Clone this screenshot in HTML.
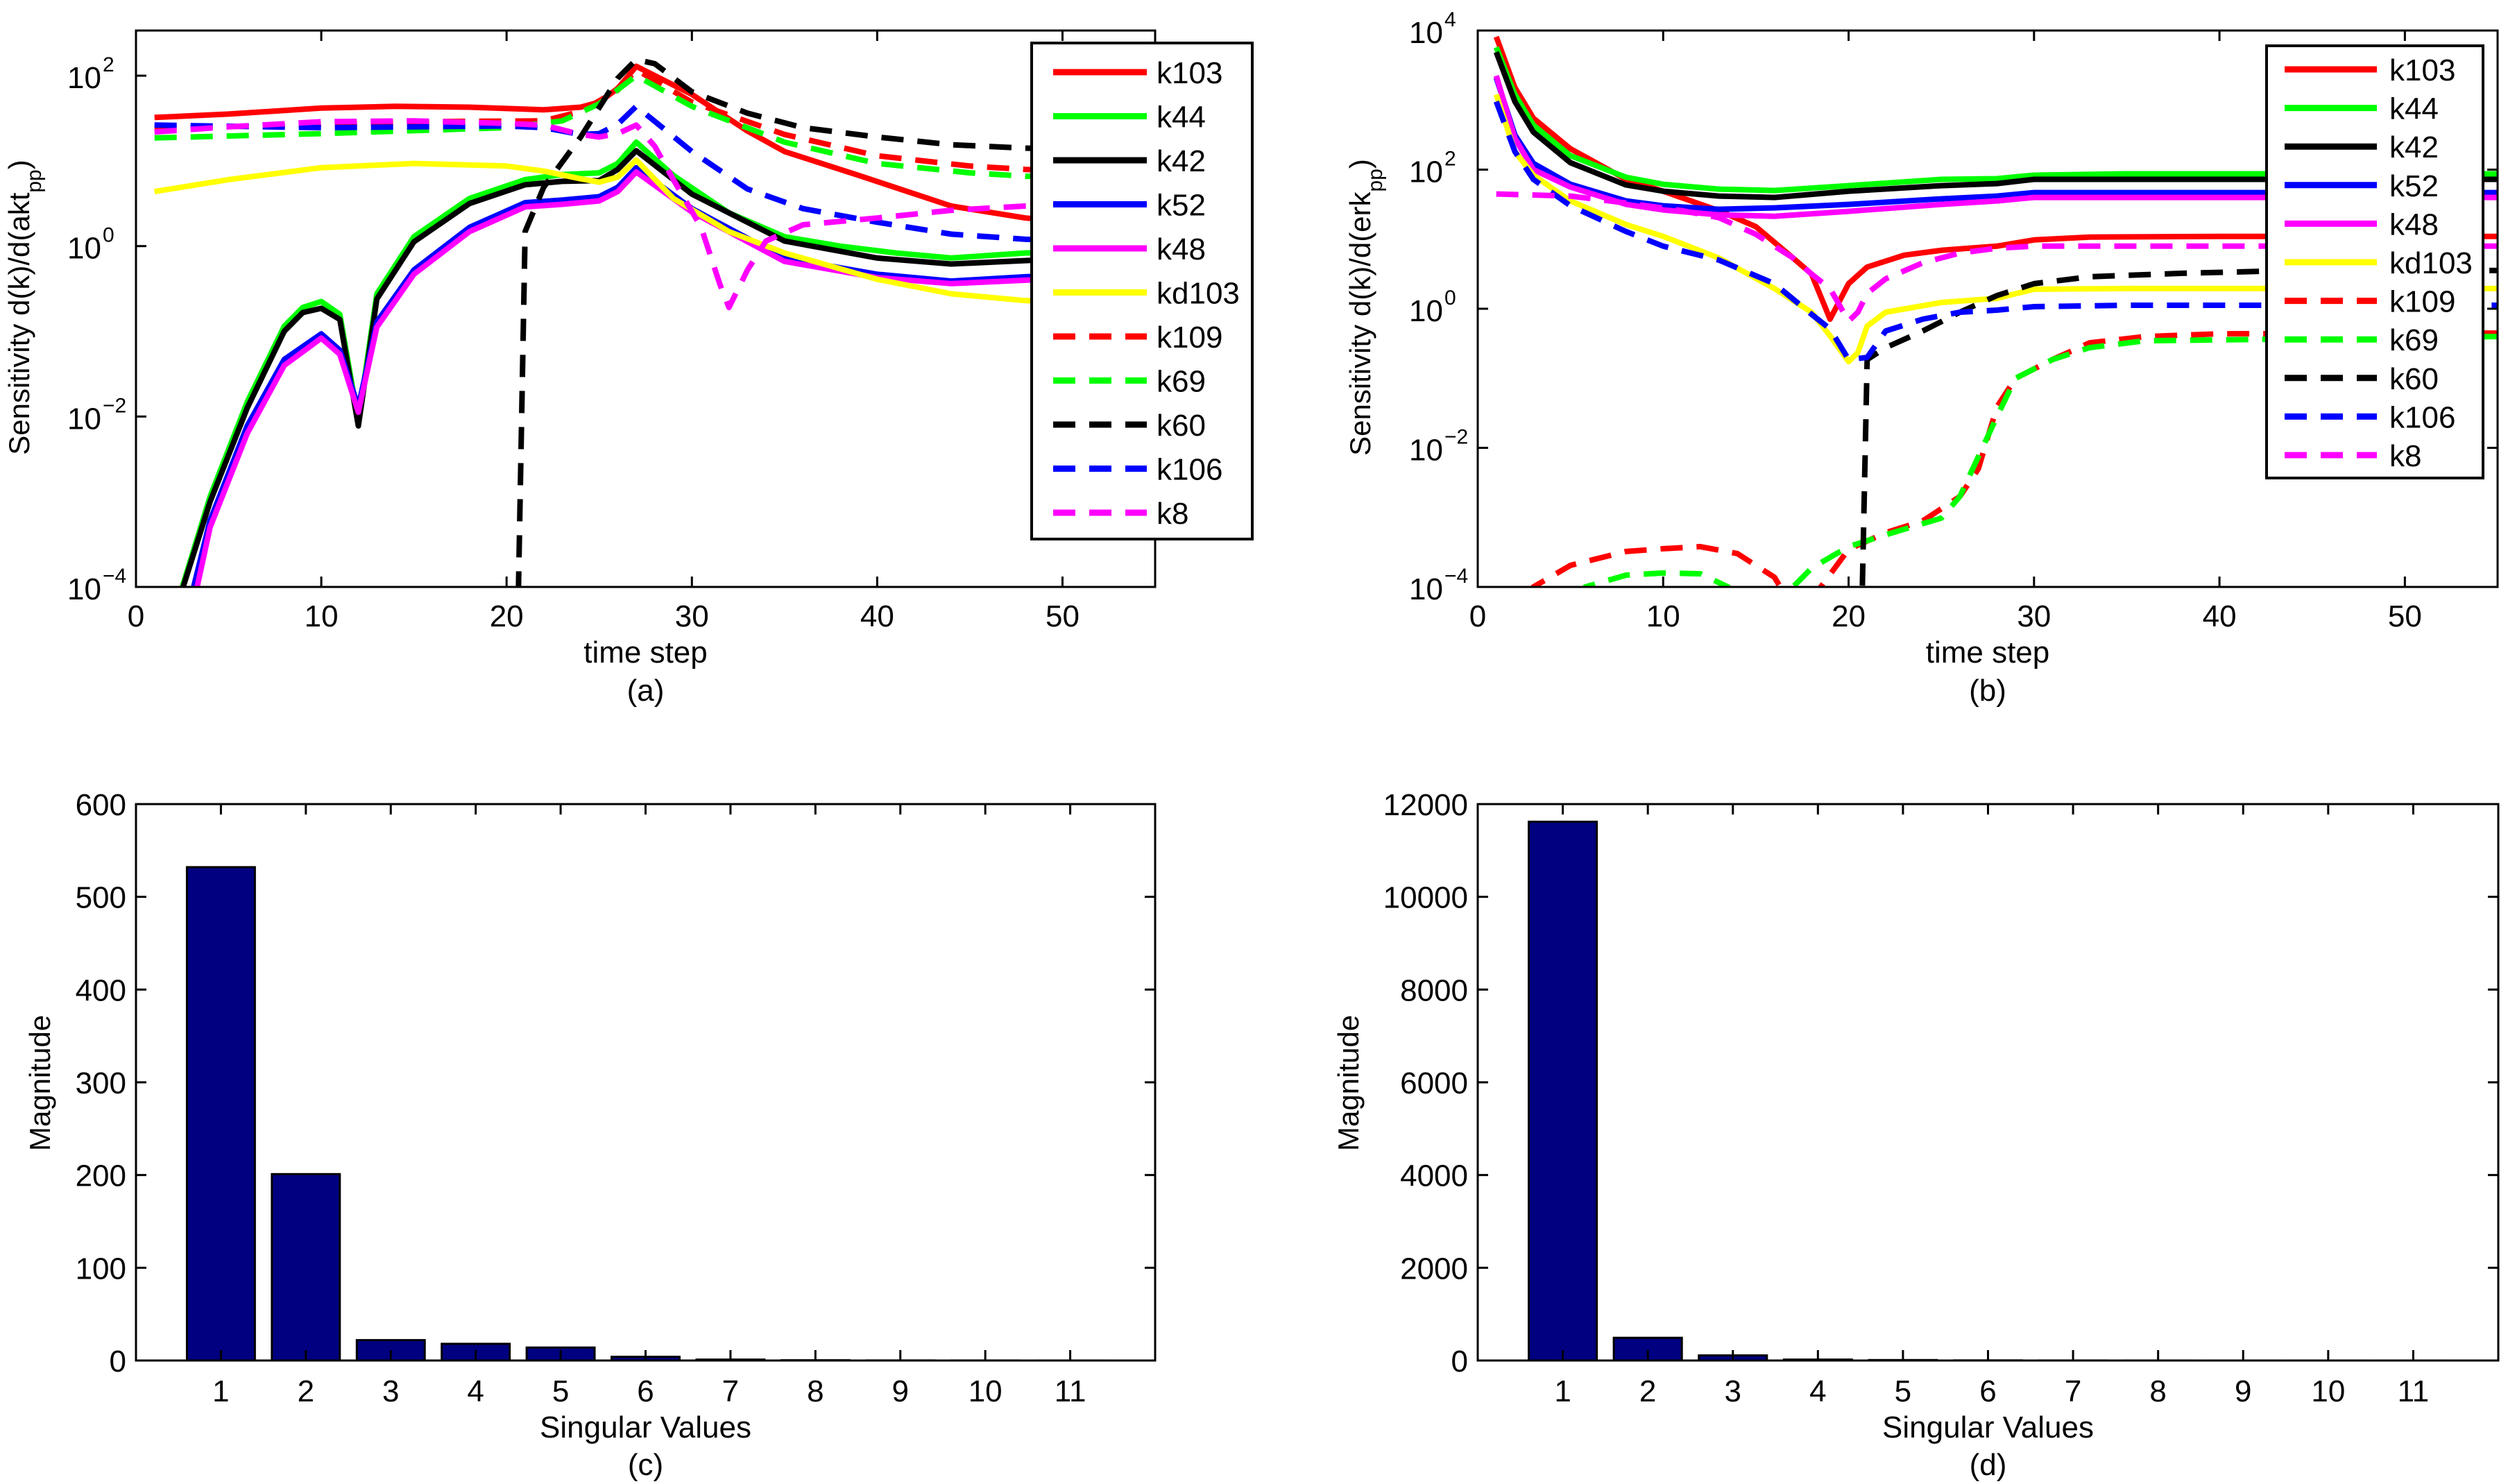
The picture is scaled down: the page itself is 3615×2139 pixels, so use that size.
<!DOCTYPE html>
<html><head><meta charset="utf-8"><style>
html,body{margin:0;padding:0;background:#fff;}
svg{display:block;font-family:"Liberation Sans",sans-serif;}
</style></head><body>
<svg id="fig" width="3615" height="2139" viewBox="0 0 3615 2139" xmlns="http://www.w3.org/2000/svg">
<rect width="3615" height="2139" fill="#fff"/>
</svg>
<script>
// ---------- Panel (a) data: [time, log10 value] ----------
const aK103 = [[1,1.51],[5,1.55],[10,1.62],[14,1.64],[18,1.63],[22,1.6],[24,1.63],[25,1.69],[26,1.85],[27,2.11],[28,2.0],[30,1.78],[33,1.35],[35,1.11],[39,0.83],[44,0.47],[48,0.33],[55,0.2]];
const aK44 = [[2.5,-4],[4,-2.94],[6,-1.83],[8,-0.94],[9,-0.72],[10,-0.65],[11,-0.8],[12,-2.05],[13,-0.56],[15,0.11],[18,0.56],[21,0.78],[23,0.84],[25,0.86],[26,0.97],[27,1.22],[29,0.83],[32,0.39],[35,0.11],[38,0],[41,-0.08],[44,-0.14],[48,-0.08],[55,-0.04]];
const aK42 = [[2.4,-4.1],[4,-3.0],[6,-1.9],[8,-1.0],[9,-0.78],[10,-0.73],[11,-0.86],[12,-2.11],[13,-0.62],[15,0.05],[18,0.5],[21,0.72],[23,0.76],[25,0.77],[26,0.9],[27,1.12],[30,0.61],[35,0.06],[40,-0.14],[44,-0.21],[48,-0.17],[55,-0.1]];
const aK52 = [[3,-4.1],[4,-3.22],[6,-2.11],[8,-1.33],[10,-1.03],[11,-1.22],[12,-1.89],[13,-0.89],[15,-0.28],[18,0.22],[21,0.51],[23,0.54],[25,0.58],[26,0.69],[27,0.92],[30,0.44],[35,-0.14],[40,-0.33],[44,-0.41],[48,-0.36],[55,-0.3]];
const aK48 = [[3.2,-4.1],[4,-3.3],[6,-2.2],[8,-1.4],[10,-1.08],[11,-1.27],[12,-1.95],[13,-0.95],[15,-0.33],[18,0.17],[21,0.46],[23,0.49],[25,0.53],[26,0.64],[27,0.87],[30,0.4],[35,-0.18],[40,-0.37],[44,-0.44],[48,-0.4],[55,-0.34]];
const aKd103 = [[1,0.64],[5,0.78],[10,0.92],[15,0.97],[20,0.94],[22,0.88],[24,0.79],[25,0.75],[26,0.81],[27,1.01],[29,0.56],[32,0.17],[35,-0.08],[40,-0.39],[44,-0.56],[48,-0.64],[55,-0.68]];
const aK109 = [[1,1.38],[10,1.43],[15,1.46],[22,1.47],[24,1.58],[26,1.83],[27,2.07],[30,1.69],[35,1.31],[40,1.06],[45,0.94],[48,0.9],[55,0.85]];
const aK69 = [[1,1.27],[10,1.32],[20,1.39],[23,1.47],[25,1.67],[27,2.0],[30,1.64],[35,1.22],[40,0.97],[45,0.86],[48,0.82],[55,0.78]];
const aK60 = [[20.6,-4.5],[21,0.17],[22,0.69],[24,1.28],[26,1.97],[27,2.19],[28,2.14],[30,1.81],[33,1.56],[36,1.39],[40,1.28],[44,1.19],[48,1.15],[55,1.1]];
const aK106 = [[1,1.42],[10,1.39],[20,1.41],[22,1.39],[24,1.31],[25,1.32],[26,1.43],[27,1.64],[30,1.11],[33,0.67],[36,0.44],[40,0.28],[44,0.14],[48,0.08],[55,0.03]];
const aK8 = [[1,1.34],[5,1.4],[10,1.46],[15,1.47],[20,1.44],[22,1.42],[24,1.31],[25,1.28],[26,1.32],[27,1.42],[28,1.17],[29,0.78],[30.5,0.22],[31.5,-0.44],[32,-0.72],[33,-0.28],[34,0.06],[36,0.25],[40,0.33],[44,0.42],[48,0.47],[55,0.5]];

// ---------- Panel (b) data: [time, log10 value] ----------
const bK103 = [[1,3.91],[2,3.18],[3,2.74],[5,2.3],[8,1.86],[10,1.69],[13,1.41],[15,1.18],[17,0.73],[18,0.5],[19,-0.15],[20,0.36],[21,0.6],[23,0.77],[25,0.84],[28,0.9],[30,0.99],[33,1.03],[40,1.04],[55,1.04]];
const bK44 = [[1,3.76],[2,3.08],[3,2.64],[5,2.2],[8,1.89],[10,1.79],[13,1.72],[16,1.7],[20,1.77],[25,1.86],[28,1.87],[30,1.92],[35,1.94],[55,1.94]];
const bK42 = [[1,3.69],[2,2.98],[3,2.54],[5,2.1],[8,1.78],[10,1.69],[13,1.62],[16,1.6],[20,1.69],[25,1.77],[28,1.8],[30,1.86],[35,1.86],[55,1.86]];
const bK52 = [[1,3.32],[2,2.5],[3,2.09],[5,1.79],[8,1.55],[10,1.48],[13,1.43],[16,1.45],[20,1.5],[25,1.58],[28,1.62],[30,1.67],[55,1.67]];
const bK48 = [[1,3.35],[2,2.45],[3,2.0],[5,1.75],[8,1.5],[10,1.42],[13,1.35],[16,1.33],[20,1.4],[25,1.5],[28,1.55],[30,1.6],[55,1.6]];
const bKd103 = [[1,3.08],[2,2.26],[3,1.92],[5,1.55],[8,1.21],[10,1.04],[13,0.73],[16,0.29],[18,-0.05],[19,-0.39],[20,-0.76],[20.5,-0.63],[21,-0.25],[22,-0.05],[25,0.09],[28,0.15],[30,0.28],[35,0.29],[55,0.29]];
const bK109 = [[2,-4.6],[3,-4],[5,-3.69],[8,-3.49],[10,-3.45],[12,-3.42],[14,-3.52],[16,-3.86],[17,-4.3],[18,-4.3],[18.5,-4],[20,-3.46],[22,-3.22],[24,-3.05],[26,-2.7],[27,-2.3],[28,-1.41],[29,-1.0],[31,-0.73],[33,-0.49],[36,-0.4],[40,-0.36],[55,-0.35]];
const bK69 = [[4.5,-4.6],[5.8,-4],[8,-3.83],[10,-3.8],[12,-3.81],[13.5,-4],[15,-4.4],[16,-4.4],[17,-4],[18,-3.73],[20,-3.42],[22,-3.25],[25,-3.01],[26,-2.7],[28,-1.55],[29,-1.0],[31,-0.73],[33,-0.56],[36,-0.46],[55,-0.4]];
const bK60 = [[20.7,-4.5],[21,-0.73],[22,-0.56],[24,-0.32],[26,-0.05],[28,0.19],[30,0.36],[33,0.46],[38,0.51],[44,0.55],[55,0.55]];
const bK106 = [[1,2.98],[2,2.26],[3,1.86],[5,1.48],[8,1.11],[10,0.9],[13,0.7],[16,0.36],[18,-0.08],[19,-0.29],[20,-0.73],[21,-0.7],[22,-0.32],[24,-0.15],[26,-0.05],[28,-0.02],[30,0.03],[35,0.05],[55,0.05]];
const bK8 = [[1,1.65],[5,1.62],[8,1.52],[11,1.41],[13,1.31],[15,1.07],[17,0.73],[18,0.5],[19,0.29],[20,-0.18],[20.5,-0.05],[21,0.22],[22,0.43],[24,0.66],[26,0.8],[28,0.87],[30,0.9],[55,0.9]];

// ---------- Bar data ----------
const svIndex = [1,2,3,4,5,6,7,8,9,10,11];
const cValues = [532,201,22,18,14,4,1,0.3,0.1,0.05,0.02];
const dValues = [11620,490,110,20,10,3,1,0.5,0.2,0.1,0.05];
const cTicks = [0,100,200,300,400,500,600];
const dTicks = [0,2000,4000,6000,8000,10000,12000];
const timeTicks = [0,10,20,30,40,50];
const aLogTicks = [-4,-2,0,2];
const bLogTicks = [-4,-2,0,2,4];

const legendNames = ['k103','k44','k42','k52','k48','kd103','k109','k69','k60','k106','k8'];
const seriesColors = ['#ff0000','#00ff00','#000000','#0000ff','#ff00ff','#ffff00','#ff0000','#00ff00','#000000','#0000ff','#ff00ff'];
const aSeries = [aK103,aK44,aK42,aK52,aK48,aKd103,aK109,aK69,aK60,aK106,aK8];
const bSeries = [bK103,bK44,bK42,bK52,bK48,bKd103,bK109,bK69,bK60,bK106,bK8];

const NS='http://www.w3.org/2000/svg';
const fig=document.getElementById('fig');
function mk(tag,attrs,parent){const e=document.createElementNS(NS,tag);for(const k in attrs)e.setAttribute(k,attrs[k]);(parent||fig).appendChild(e);return e;}
function txt(x,y,s,anchor,size,parent){const t=mk('text',{x:x,y:y,'text-anchor':anchor,'font-size':size,fill:'#000'},parent);t.textContent=s;return t;}

function linScale(d0,d1,r0,r1){return v=>r0+(v-d0)*(r1-r0)/(d1-d0);}

function logPanel(id,L,R,T,B,ymin,ymax,ticks,series,legend,label,sub,caption){
  const g=mk('g',{});
  
  
  const xs=linScale(0,55,L,R), ys=linScale(ymin,ymax,B,T);
  const cp=mk('clipPath',{id:'clip'+id},g);
  mk('rect',{x:L,y:T,width:R-L,height:B-T},cp);
  const lines=mk('g',{'clip-path':'url(#clip'+id+')'},g);
  // draw dashed first, then solid? keep order: dashed on top as in reference
  series.forEach((s,i)=>{
    const d=s.map((p,j)=>(j?'L':'M')+xs(p[0]).toFixed(1)+','+ys(p[1]).toFixed(1)).join(' ');
    const p=mk('path',{d:d,fill:'none',stroke:seriesColors[i],'stroke-width':8,'stroke-linejoin':'round'},lines);
    if(i>=6)p.setAttribute('stroke-dasharray','32 20');
    
    
  });
  const ax=mk('rect',{x:L,y:T,width:R-L,height:B-T,fill:'none',stroke:'#000','stroke-width':3},g);
  
  
  timeTicks.forEach(v=>{
    const x=xs(v);
    mk('line',{x1:x,y1:B,x2:x,y2:B-15,stroke:'#000','stroke-width':3},g);
    mk('line',{x1:x,y1:T,x2:x,y2:T+15,stroke:'#000','stroke-width':3},g);
    const t=txt(x,903,String(v),'middle',44,g);
    
    
  });
  ticks.forEach(v=>{
    const y=ys(v);
    mk('line',{x1:L,y1:y,x2:L+15,y2:y,stroke:'#000','stroke-width':3},g);
    mk('line',{x1:R,y1:y,x2:R-15,y2:y,stroke:'#000','stroke-width':3},g);
    const t=mk('text',{x:L-50,y:y+18,'text-anchor':'end','font-size':44},g);
    
    
    t.textContent='10';
    const e=mk('text',{x:L-48,y:y-6,'text-anchor':'start','font-size':30},g);
    e.textContent=(v<0?'\u2212'+(-v):String(v));
  });
  const xt=txt((L+R)/2,955,'time step','middle',44,g);
  
  
  const cap=txt((L+R)/2,1010,caption,'middle',44,g);
  
  
  const yl=mk('text',{x:0,y:0,'text-anchor':'middle','font-size':42,transform:'translate('+label.x+',443) rotate(-90)'},g);
  
  
  yl.textContent=label.text;
  const ts=mk('tspan',{'baseline-shift':'sub','font-size':30},yl);ts.textContent=sub;
  const t2=mk('tspan',{},yl);t2.textContent=')';
  // legend
  const lg=mk('g',{},g);
  
  
  mk('rect',{x:legend.x0,y:legend.y0,width:legend.x1-legend.x0,height:legend.y1-legend.y0,fill:'#fff',stroke:'#000','stroke-width':4},lg);
  legendNames.forEach((n,i)=>{
    const y=legend.r0+i*legend.dy;
    const e=mk('g',{},lg);
    
    
    const l=mk('line',{x1:legend.lx0,y1:y,x2:legend.lx1,y2:y,stroke:seriesColors[i],'stroke-width':9},e);
    if(i>=6)l.setAttribute('stroke-dasharray','32 20');
    txt(legend.tx,y+16,n,'start',44,e);
  });
}

logPanel('a',196,1665,44,846,-4,2.53,aLogTicks,aSeries,
  {x0:1487,x1:1805,y0:62,y1:777,lx0:1518,lx1:1653,tx:1667,r0:104,dy:63.5},
  {x:42,text:'Sensitivity d(k)/d(akt'},'pp','(a)');
logPanel('b',2130,3600,44,846,-4,4,bLogTicks,bSeries,
  {x0:3267,x1:3579,y0:66,y1:689,lx0:3293,lx1:3426,tx:3444,r0:100,dy:55.6},
  {x:1975,text:'Sensitivity d(k)/d(erk'},'pp','(b)');

function barPanel(id,L,R,T,B,ymax,ticks,vals,caption,ylx){
  const g=mk('g',{});
  
  
  const xs=linScale(0,12,L,R), ys=linScale(0,ymax,B,T);
  vals.forEach((v,i)=>{
    const x0=xs(svIndex[i]-0.4), x1=xs(svIndex[i]+0.4), y=ys(v);
    const r=mk('rect',{x:x0,y:y,width:x1-x0,height:Math.max(B-y,0),fill:'#000080',stroke:'#000','stroke-width':3},g);
    
    
  });
  const ax=mk('rect',{x:L,y:T,width:R-L,height:B-T,fill:'none',stroke:'#000','stroke-width':3},g);
  
  
  svIndex.forEach(v=>{
    const x=xs(v);
    mk('line',{x1:x,y1:B,x2:x,y2:B-15,stroke:'#000','stroke-width':3},g);
    mk('line',{x1:x,y1:T,x2:x,y2:T+15,stroke:'#000','stroke-width':3},g);
    const t=txt(x,2020,String(v),'middle',44,g);
    
    
  });
  ticks.forEach(v=>{
    const y=ys(v);
    mk('line',{x1:L,y1:y,x2:L+15,y2:y,stroke:'#000','stroke-width':3},g);
    mk('line',{x1:R,y1:y,x2:R-15,y2:y,stroke:'#000','stroke-width':3},g);
    const t=txt(L-14,y+16,String(v),'end',44,g);
    
    
  });
  const xt=txt((L+R)/2,2072,'Singular Values','middle',44,g);
  
  
  const cap=txt((L+R)/2,2126,caption,'middle',44,g);
  
  
  const yl=mk('text',{x:0,y:0,'text-anchor':'middle','font-size':42,transform:'translate('+ylx+',1561) rotate(-90)'},g);
  
  
  yl.textContent='Magnitude';
}
barPanel('c',196,1665,1159,1961,600,cTicks,cValues,'(c)',72);
barPanel('d',2130,3601,1159,1961,12000,dTicks,dValues,'(d)',1958);
</script>
</body></html>
